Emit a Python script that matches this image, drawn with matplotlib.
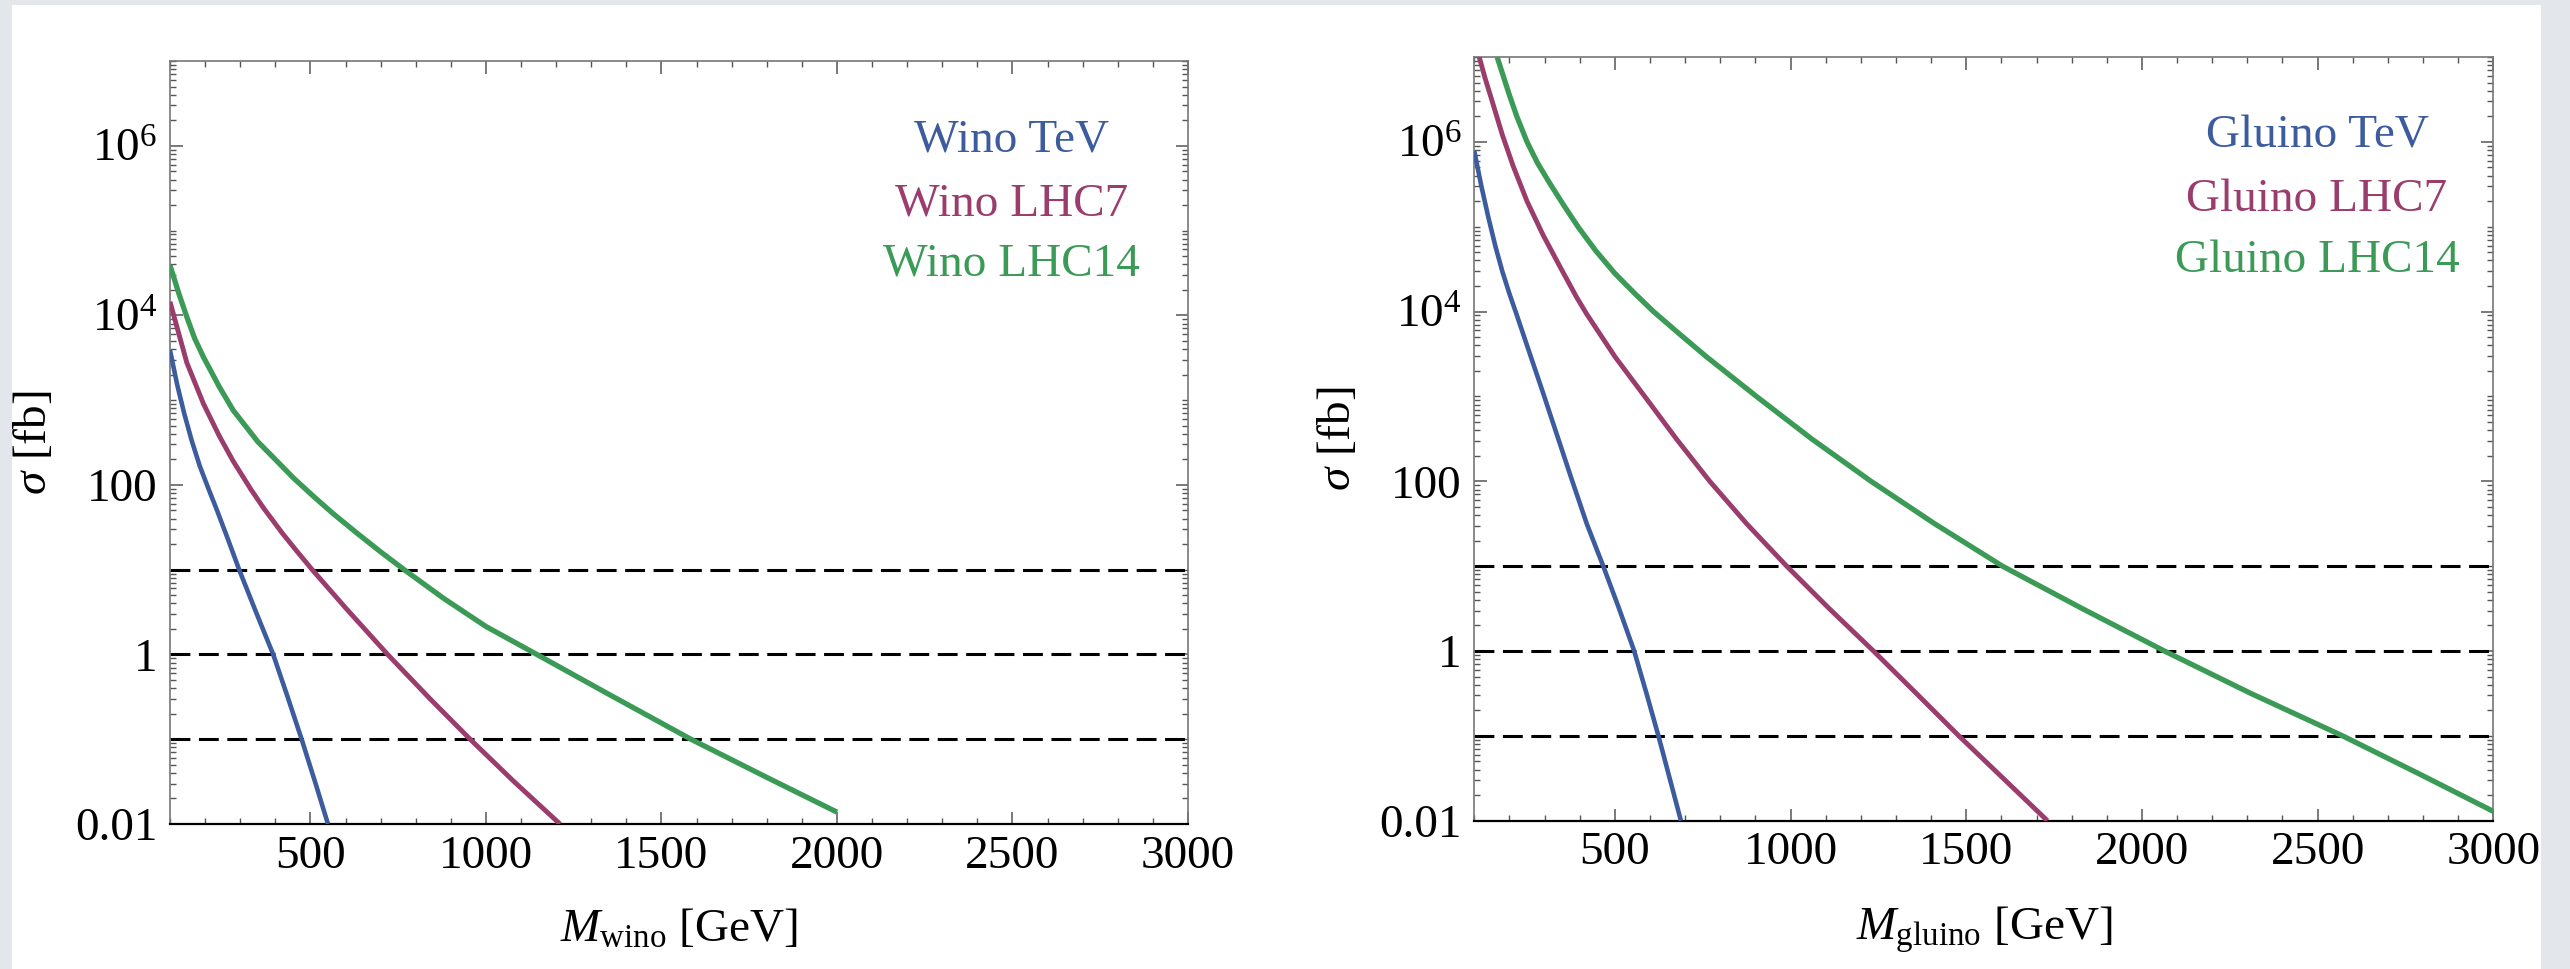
import matplotlib
matplotlib.use('Agg')
import matplotlib.pyplot as plt
from matplotlib.patches import Rectangle
from matplotlib.ticker import FixedLocator, FixedFormatter, MultipleLocator, LogLocator, NullFormatter

plt.rcParams['font.family'] = ['Liberation Serif', 'DejaVu Serif']
plt.rcParams['mathtext.fontset'] = 'custom'
plt.rcParams['mathtext.rm'] = 'Liberation Serif'
plt.rcParams['mathtext.it'] = 'Liberation Serif:italic'

# wino: mass [GeV] and log10 of cross section [fb]
wino_tev_m = [100, 120, 140, 162, 185, 210, 233, 265, 297, 345, 394, 435, 475, 513, 550]
wino_tev_lg = [3.59, 3.19, 2.85, 2.52, 2.22, 1.95, 1.71, 1.36, 1.0, 0.5, 0.0, -0.5, -1.0, -1.5, -2.0]

wino_lhc7_m = [100, 148, 195, 240, 280, 330, 366, 420, 461, 505, 600, 720, 840, 955, 1080, 1211]
wino_lhc7_lg = [4.16, 3.44, 2.96, 2.58, 2.28, 1.95, 1.73, 1.43, 1.22, 1.0, 0.55, 0.0, -0.52, -1.0, -1.5, -2.0]

wino_lhc14_m = [100, 125, 148, 170, 195, 240, 280, 350, 400, 452, 510, 565, 630, 700, 767,
                880, 1000, 1145, 1350, 1584, 1800, 2000]
wino_lhc14_lg = [4.59, 4.26, 3.98, 3.73, 3.51, 3.16, 2.88, 2.51, 2.30, 2.08, 1.86, 1.66, 1.44, 1.21, 1.0,
                 0.66, 0.33, 0.0, -0.47, -1.0, -1.45, -1.86]

# gluino: mass [GeV] and log10 of cross section [fb]
gluino_tev_m = [100, 120, 140, 160, 180, 200, 220, 255, 295, 335, 375, 420, 467, 512, 555,
                590, 624, 656, 688]
gluino_tev_lg = [5.89, 5.48, 5.11, 4.77, 4.47, 4.21, 3.97, 3.54, 3.05, 2.55, 2.05, 1.5, 1.0, 0.5, 0.0,
                 -0.5, -1.0, -1.5, -2.0]

gluino_lhc7_m = [114, 130, 150, 180, 211, 250, 296, 345, 391, 420, 500, 585, 675, 770, 875,
                 989, 1110, 1236, 1358, 1479, 1605, 1731]
gluino_lhc7_lg = [7.0, 6.76, 6.49, 6.08, 5.71, 5.3, 4.9, 4.52, 4.17, 3.97, 3.47, 3.0, 2.5, 2.0, 1.5,
                  1.0, 0.5, 0.0, -0.5, -1.0, -1.5, -2.0]

gluino_lhc14_m = [165, 200, 221, 250, 280, 315, 355, 395, 445, 500, 555, 610, 680, 760, 830, 903,
                  1060, 1229, 1410, 1603, 1830, 2064, 2310, 2571, 2790, 3000]
gluino_lhc14_lg = [7.0, 6.55, 6.30, 6.0, 5.75, 5.51, 5.25, 5.0, 4.72, 4.45, 4.22, 4.0, 3.75, 3.47, 3.24, 3.0,
                   2.5, 2.0, 1.5, 1.0, 0.5, 0.0, -0.5, -1.0, -1.45, -1.89]

limits = [10, 1, 0.1]

ytick_vals = [0.01, 1, 100, 1e4, 1e6]
ytick_text = ['0.01', '1', '100', r'$10^{4}$', r'$10^{6}$']
xtick_vals = [500, 1000, 1500, 2000, 2500, 3000]

c_blue = '#3c5c9e'
c_purple = '#9a3d6d'
c_green = '#3c9a57'

fig = plt.figure(figsize=(25.70, 9.69), dpi=100)
fig.patch.set_facecolor('#e3e6ea')
fig.patches.append(Rectangle((12 / 2570, 0), (2541 - 12) / 2570, (969 - 5) / 969,
                             transform=fig.transFigure, facecolor='white',
                             edgecolor='none', zorder=-10))

ax1 = fig.add_axes([170 / 2570, 1 - 824 / 969, 1018 / 2570, 763 / 969])
ax2 = fig.add_axes([1474.3 / 2570, 1 - 820.7 / 969, 1019 / 2570, 763.7 / 969])

panels = [
    (ax1, 'wino', 'Wino',
     [(wino_tev_m, wino_tev_lg), (wino_lhc7_m, wino_lhc7_lg), (wino_lhc14_m, wino_lhc14_lg)]),
    (ax2, 'gluino', 'Gluino',
     [(gluino_tev_m, gluino_tev_lg), (gluino_lhc7_m, gluino_lhc7_lg), (gluino_lhc14_m, gluino_lhc14_lg)]),
]

names = ['TeV', 'LHC7', 'LHC14']
colors = [c_blue, c_purple, c_green]
widths = [3.3, 3.5, 3.8]
legend_y = [0.882, 0.798, 0.719]

for ax, sub, title, series in panels:
    ax.set_facecolor('none')
    ax.set_yscale('log')
    ax.set_xlim(100, 3000)
    ax.set_ylim(0.01, 1e7)

    for lim in limits:
        ax.axhline(lim, color='black', linewidth=2.2, linestyle=(0, (6.5, 2.8)), zorder=2)

    for (m, lg), col, lw in zip(series, colors, widths):
        sigma = [10 ** v for v in lg]
        ax.plot(m, sigma, color=col, linewidth=lw, solid_capstyle='butt',
                solid_joinstyle='round', zorder=3)

    for name, col, yy in zip(names, colors, legend_y):
        ax.text(0.827, yy, f'{title} {name}', color=col, fontsize=34,
                ha='center', va='baseline', transform=ax.transAxes)

    ax.yaxis.set_major_locator(FixedLocator(ytick_vals))
    ax.yaxis.set_major_formatter(FixedFormatter(ytick_text))
    ax.yaxis.set_minor_locator(LogLocator(base=10, subs=range(1, 10), numticks=40))
    ax.yaxis.set_minor_formatter(NullFormatter())
    ax.xaxis.set_major_locator(FixedLocator(xtick_vals))
    ax.xaxis.set_minor_locator(MultipleLocator(100))

    ax.tick_params(which='both', direction='in', top=True, right=True,
                   colors='#555555', labelcolor='black', labelsize=34)
    ax.tick_params(which='major', length=9, width=1.1)
    ax.tick_params(which='minor', length=4.5, width=1.0)
    ax.tick_params(axis='x', which='major', pad=8)
    ax.tick_params(axis='y', which='major', pad=9)

    for side in ['left', 'right', 'top']:
        ax.spines[side].set_color('#777777')
        ax.spines[side].set_linewidth(1.2)
    ax.spines['bottom'].set_color('black')
    ax.spines['bottom'].set_linewidth(1.6)

    ax.set_xlabel(r'$M_{\mathrm{' + sub + r'}}$ [GeV]', fontsize=34, labelpad=22)
    ax.set_ylabel(r'$\sigma$ [fb]', fontsize=34, labelpad=14)

fig.savefig('out.png', dpi=100)
